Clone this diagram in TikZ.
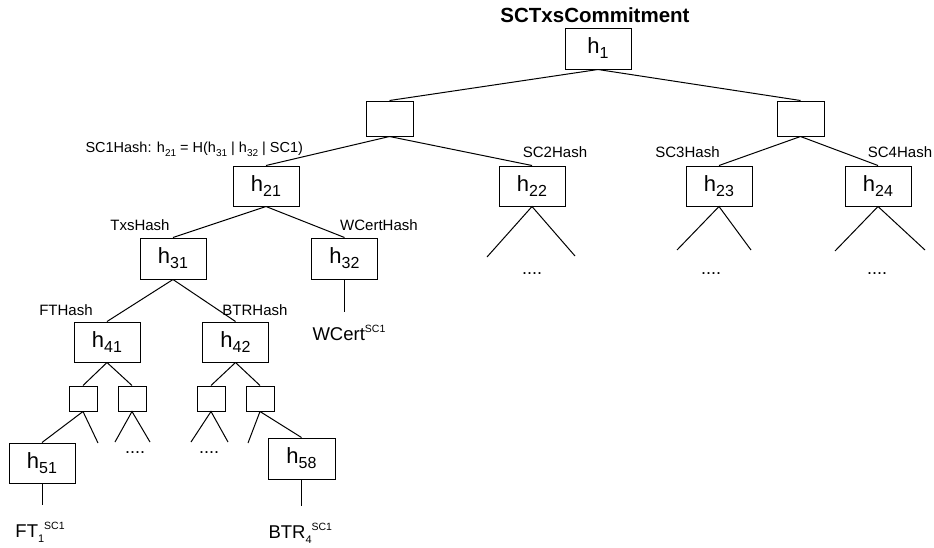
\documentclass[tikz,border=0pt]{standalone}
\usepackage{fontspec}
\setmainfont{Liberation Sans}

\newcommand{\hv}[1]{{\fontsize{22}{24}\selectfont h}\raisebox{-5pt}{\fontsize{16}{18}\selectfont #1}}
\newcommand{\hs}[1]{h\raisebox{-4pt}{\fontsize{10}{11}\selectfont #1}}
\newcommand{\lsub}[1]{\raisebox{-5pt}{\fontsize{11}{12}\selectfont #1}}
\newcommand{\lsup}{\raisebox{8pt}{\fontsize{10.5}{11}\selectfont SC1}}

\begin{document}
\begin{tikzpicture}[x=1pt,y=-1pt,line width=1pt,
    box/.style={rectangle,draw=black,inner sep=0pt,minimum width=66pt,minimum height=40pt},
    ebox/.style={rectangle,draw=black,minimum width=47pt,minimum height=35pt},
    sbox/.style={rectangle,draw=black,minimum width=28pt,minimum height=25pt},
    lbl/.style={inner sep=0pt,anchor=base,font=\fontsize{15}{17}\selectfont},
    leaf/.style={inner sep=0pt,anchor=base west,font=\fontsize{18.5}{20}\selectfont},
    dots/.style={inner sep=0pt,anchor=base,font=\fontsize{18}{20}\selectfont}]
    \useasboundingbox (0,0) rectangle (934,547);

    % top of the tree
    \node[lbl,font=\fontsize{20.5}{22}\selectfont\bfseries] (title) at (595,22) {SCTxsCommitment};
    \node[box,minimum height=41pt] (h1) at (598,48.5) {\hv{1}};
    \node[ebox] (e1) at (389.5,118.5) {};
    \node[ebox] (e2) at (800.5,118.5) {};

    % sidechain hashes
    \node[box] (h21) at (266,186) {\hv{21}};
    \node[box] (h22) at (532,186) {\hv{22}};
    \node[box] (h23) at (719,186) {\hv{23}};
    \node[box] (h24) at (878,186) {\hv{24}};
    \node[lbl,anchor=base west,font=\fontsize{14.5}{16}\selectfont] (l21) at (85,152) {SC1Hash: \hs{21} = H(\hs{31} | \hs{32} | SC1)};
    \node[lbl] (l22) at (555,157) {SC2Hash};
    \node[lbl] (l23) at (687.5,157) {SC3Hash};
    \node[lbl] (l24) at (900,157) {SC4Hash};

    \node[box,minimum height=41pt] (h31) at (173,258.5) {\hv{31}};
    \node[box,minimum height=41pt] (h32) at (344.5,258.5) {\hv{32}};
    \node[lbl] (l31) at (140,230) {TxsHash};
    \node[lbl] (l32) at (379,230) {WCertHash};

    \node[box] (h41) at (107,342) {\hv{41}};
    \node[box] (h42) at (235.5,342) {\hv{42}};
    \node[lbl] (l41) at (66,315) {FTHash};
    \node[lbl] (l42) at (255,315) {BTRHash};

    \node[sbox] (s1) at (83,398.5) {};
    \node[sbox] (s2) at (132,398.5) {};
    \node[sbox] (s3) at (211,398.5) {};
    \node[sbox] (s4) at (260,398.5) {};

    \node[box] (h51) at (42,463) {\hv{51}};
    \node[box,minimum width=67pt,minimum height=41pt] (h58) at (301.5,458.5) {\hv{58}};

    % loose ends
    \coordinate (a1) at (487,257); \coordinate (a2) at (575,256);
    \coordinate (b1) at (677,250); \coordinate (b2) at (751,250);
    \coordinate (c1) at (835,251); \coordinate (c2) at (925,250);
    \coordinate (d1) at (98,443);
    \coordinate (d2) at (115,442); \coordinate (d3) at (150,442);
    \coordinate (d4) at (191,442); \coordinate (d5) at (228,442);
    \coordinate (d6) at (248,443);
    \coordinate (w) at (344.5,312);
    \coordinate (f) at (42,505);
    \coordinate (r) at (301.5,506);

    \draw (h1.south) -- (e1.north);
    \draw (h1.south) -- (e2.north);
    \draw (e1.south) -- (h21.north);
    \draw (e1.south) -- (h22.north);
    \draw (e2.south) -- (h23.north);
    \draw (e2.south) -- (h24.north);
    \draw (h21.south) -- (h31.north);
    \draw (h21.south) -- (h32.north);
    \draw (h31.south) -- (h41.north);
    \draw (h31.south) -- (h42.north);
    \draw (h41.south) -- (s1.north);
    \draw (h41.south) -- (s2.north);
    \draw (h42.south) -- (s3.north);
    \draw (h42.south) -- (s4.north);
    \draw (s1.south) -- (h51.north);
    \draw (s1.south) -- (d1);
    \draw (d2) -- (s2.south) -- (d3);
    \draw (d4) -- (s3.south) -- (d5);
    \draw (s4.south) -- (d6);
    \draw (s4.south) -- (h58.north);
    \draw (a1) -- (h22.south) -- (a2);
    \draw (b1) -- (h23.south) -- (b2);
    \draw (c1) -- (h24.south) -- (c2);
    \draw (h32.south) -- (w);
    \draw (h51.south) -- (f);
    \draw (h58.south) -- (r);

    \node[dots] (t22) at (532,274) {....};
    \node[dots] (t23) at (711,274) {....};
    \node[dots] (t24) at (877,274) {....};
    \node[dots] (t2) at (135,453) {....};
    \node[dots] (t3) at (209,453) {....};

    % leaves
    \node[leaf] (wc) at (312,340) {WCert\lsup};
    \node[leaf] (ft) at (15,537) {FT\lsub{1}\lsup};
    \node[leaf] (btr) at (268,538) {BTR\lsub{4}\lsup};
\end{tikzpicture}
\end{document}
